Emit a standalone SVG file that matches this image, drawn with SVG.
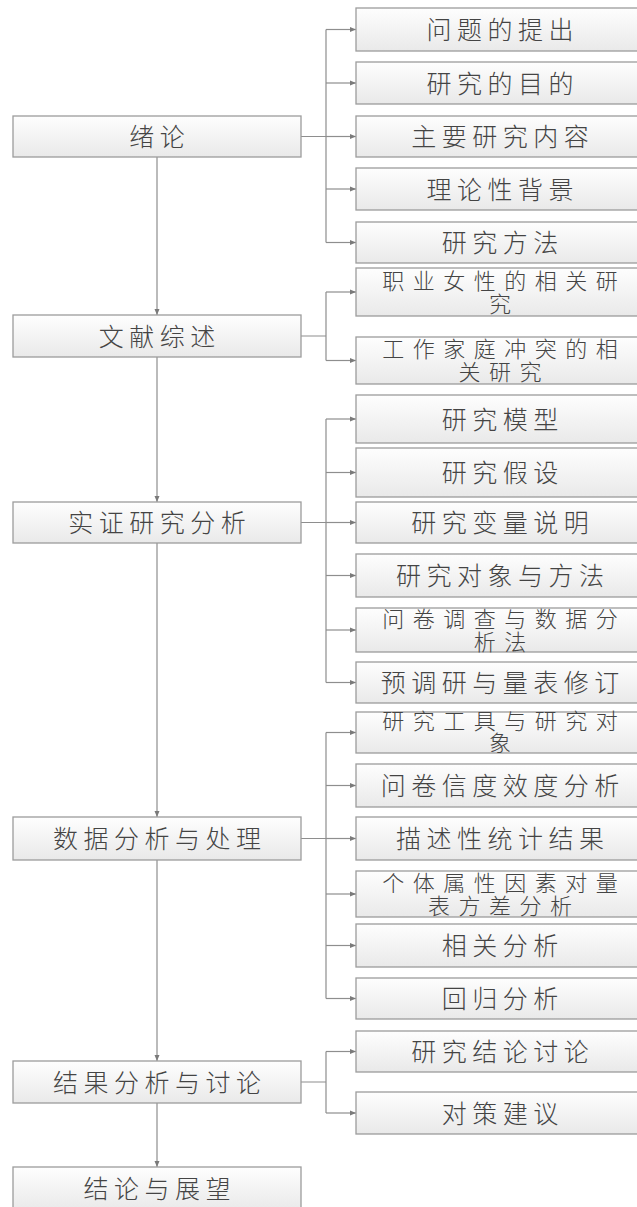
<svg xmlns="http://www.w3.org/2000/svg" width="637" height="1207" viewBox="0 0 637 1207">
<defs>
<linearGradient id="g" x1="0" y1="0" x2="0" y2="1">
<stop offset="0" stop-color="#fefefe"/>
<stop offset="1" stop-color="#e9e9e9"/>
</linearGradient>
<marker id="ah" markerUnits="userSpaceOnUse" markerWidth="6" markerHeight="6" refX="6" refY="3" orient="auto">
<path d="M0,0.5 L6,3 L0,5.5 z" fill="#7a7a7a"/>
</marker>
</defs>
<style>
rect.b{fill:url(#g);stroke:#9c9c9c;stroke-width:1.3}
text{font-family:"Noto Sans CJK SC","Liberation Sans",sans-serif;font-size:25px;letter-spacing:5.5px;fill:#444444;text-anchor:middle;font-weight:300}
text.w{font-size:22px;letter-spacing:8.5px}
.c{fill:none;stroke:#8e8e8e;stroke-width:1.2}
.a{marker-end:url(#ah)}
</style>
<rect width="637" height="1207" fill="#ffffff"/>
<g id="connectors">
<path class="c a" d="M157,157 V315"/>
<path class="c a" d="M157,357 V502"/>
<path class="c a" d="M157,543 V817"/>
<path class="c a" d="M157,860 V1061"/>
<path class="c a" d="M157,1103 V1167"/>
<path class="c" d="M301,136.5 H326 M326,29.5 V242.5"/>
<path class="c a" d="M326,29.5 H356"/>
<path class="c a" d="M326,83 H356"/>
<path class="c a" d="M326,136.5 H356"/>
<path class="c a" d="M326,189 H356"/>
<path class="c a" d="M326,242.5 H356"/>
<path class="c" d="M301,336 H326 M326,292 V360.5"/>
<path class="c a" d="M326,292 H356"/>
<path class="c a" d="M326,360.5 H356"/>
<path class="c" d="M301,522.5 H326 M326,419 V682.5"/>
<path class="c a" d="M326,419 H356"/>
<path class="c a" d="M326,472.5 H356"/>
<path class="c a" d="M326,522.5 H356"/>
<path class="c a" d="M326,575.5 H356"/>
<path class="c a" d="M326,630 H356"/>
<path class="c a" d="M326,682.5 H356"/>
<path class="c" d="M301,838.5 H326 M326,732.5 V998.5"/>
<path class="c a" d="M326,732.5 H356"/>
<path class="c a" d="M326,785.5 H356"/>
<path class="c a" d="M326,838.5 H356"/>
<path class="c a" d="M326,894 H356"/>
<path class="c a" d="M326,945.5 H356"/>
<path class="c a" d="M326,998.5 H356"/>
<path class="c" d="M301,1082 H326 M326,1051.5 V1113"/>
<path class="c a" d="M326,1051.5 H356"/>
<path class="c a" d="M326,1113 H356"/>
</g>
<g id="n-xulun"><rect class="b" x="13" y="116" width="288" height="41"/><text x="159.75" y="146">绪论</text></g>
<g id="n-wenxian"><rect class="b" x="13" y="315" width="288" height="42"/><text x="159.75" y="345.5">文献综述</text></g>
<g id="n-shizheng"><rect class="b" x="13" y="502" width="288" height="41"/><text x="159.75" y="532">实证研究分析</text></g>
<g id="n-shuju"><rect class="b" x="13" y="817" width="288" height="43"/><text x="159.75" y="848">数据分析与处理</text></g>
<g id="n-jieguo"><rect class="b" x="13" y="1061" width="288" height="42"/><text x="159.75" y="1091.5">结果分析与讨论</text></g>
<g id="n-jielun"><rect class="b" x="13" y="1167" width="288" height="44"/><text x="159.75" y="1197.5">结论与展望</text></g>

<g id="r1"><rect class="b" x="356" y="8" width="290" height="43"/><text x="502.75" y="39">问题的提出</text></g>
<g id="r2"><rect class="b" x="356" y="62" width="290" height="42"/><text x="502.75" y="92.5">研究的目的</text></g>
<g id="r3"><rect class="b" x="356" y="116" width="290" height="41"/><text x="502.75" y="146">主要研究内容</text></g>
<g id="r4"><rect class="b" x="356" y="168" width="290" height="42"/><text x="502.75" y="198.5">理论性背景</text></g>
<g id="r5"><rect class="b" x="356" y="222" width="290" height="41"/><text x="502.75" y="252">研究方法</text></g>
<g id="r6"><rect class="b" x="356" y="268" width="290" height="48"/><text class="w" x="504.25" y="288.5">职业女性的相关研</text><text class="w" x="504.25" y="311.5">究</text></g>
<g id="r7"><rect class="b" x="356" y="337" width="290" height="47"/><text class="w" x="504.25" y="357">工作家庭冲突的相</text><text class="w" x="504.25" y="380">关研究</text></g>
<g id="r8"><rect class="b" x="356" y="395" width="290" height="48"/><text x="502.75" y="428.5">研究模型</text></g>
<g id="r9"><rect class="b" x="356" y="448" width="290" height="49"/><text x="502.75" y="482">研究假设</text></g>
<g id="r10"><rect class="b" x="356" y="502" width="290" height="41"/><text x="502.75" y="532">研究变量说明</text></g>
<g id="r11"><rect class="b" x="356" y="554" width="290" height="43"/><text x="502.75" y="585">研究对象与方法</text></g>
<g id="r12"><rect class="b" x="356" y="608" width="290" height="44"/><text class="w" x="504.25" y="626.5">问卷调查与数据分</text><text class="w" x="504.25" y="649.5">析法</text></g>
<g id="r13"><rect class="b" x="356" y="662" width="290" height="41"/><text x="502.75" y="692">预调研与量表修订</text></g>
<g id="r14"><rect class="b" x="356" y="712" width="290" height="41"/><text class="w" x="504.25" y="728.5">研究工具与研究对</text><text class="w" x="504.25" y="751">象</text></g>
<g id="r15"><rect class="b" x="356" y="764" width="290" height="43"/><text x="502.75" y="795">问卷信度效度分析</text></g>
<g id="r16"><rect class="b" x="356" y="817" width="290" height="43"/><text x="502.75" y="848">描述性统计结果</text></g>
<g id="r17"><rect class="b" x="356" y="871" width="290" height="46"/><text class="w" x="504.25" y="890.5">个体属性因素对量</text><text class="w" x="504.25" y="913.5">表方差分析</text></g>
<g id="r18"><rect class="b" x="356" y="924" width="290" height="43"/><text x="502.75" y="955">相关分析</text></g>
<g id="r19"><rect class="b" x="356" y="978" width="290" height="41"/><text x="502.75" y="1008">回归分析</text></g>
<g id="r20"><rect class="b" x="356" y="1031" width="290" height="41"/><text x="502.75" y="1061">研究结论讨论</text></g>
<g id="r21"><rect class="b" x="356" y="1092" width="290" height="42"/><text x="502.75" y="1122.5">对策建议</text></g>
</svg>
